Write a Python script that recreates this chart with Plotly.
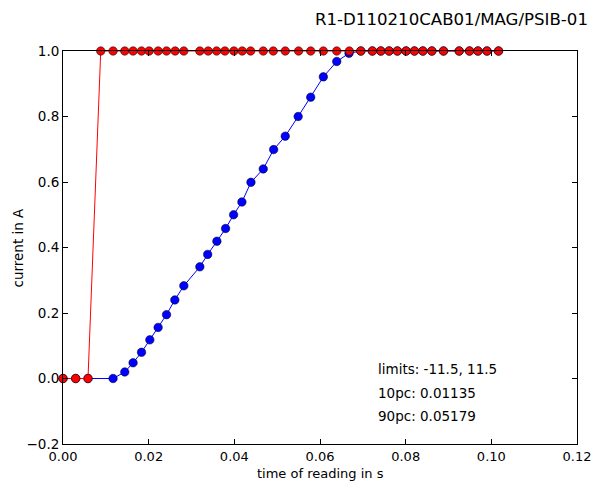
import plotly.graph_objects as go

title_text = "R1-D110210CAB01/MAG/PSIB-01"
x_label = "time of reading in s"
y_label = "current in A"
notes = ["limits: -11.5, 11.5", "10pc: 0.01135", "90pc: 0.05179"]

red_x = [0.0, 0.00297, 0.00584, 0.00881, 0.01169, 0.01442, 0.01636, 0.01833, 0.02010,
         0.02221, 0.02417, 0.02618, 0.02821, 0.03195, 0.03389, 0.03586, 0.0378, 0.0399,
         0.04184, 0.04381, 0.04675, 0.04909, 0.05189, 0.05500, 0.05783, 0.06078, 0.06391,
         0.06685, 0.06952, 0.07223, 0.07419, 0.07614, 0.07807, 0.0801, 0.08205, 0.08401,
         0.08611, 0.08883, 0.09250, 0.0949, 0.09687, 0.09897, 0.10168]
red_y = [0.0, 0.0, 0.0] + [1.0] * 40

blue_x = [0.0, 0.00297, 0.00584, 0.01169, 0.01442, 0.01636, 0.01833, 0.02027, 0.02221,
          0.02417, 0.02611, 0.02821, 0.03195, 0.03378, 0.03593, 0.03796, 0.03983, 0.04177,
          0.04388, 0.04675, 0.04918, 0.05189, 0.0549, 0.05783, 0.06078, 0.06391, 0.06678,
          0.06952, 0.07223, 0.07419, 0.07614, 0.07807, 0.0801, 0.08205, 0.08401, 0.08611,
          0.08883, 0.09250, 0.0949, 0.09687, 0.09897, 0.10168]
blue_y = [0.0, 0.0, 0.0, 0.0, 0.02, 0.048, 0.08, 0.118, 0.156, 0.195, 0.24, 0.283, 0.341,
          0.379, 0.419, 0.458, 0.5, 0.539, 0.599, 0.64, 0.699, 0.74, 0.8, 0.859, 0.921,
          0.968, 0.993, 1.0, 1.0, 1.0, 1.0, 1.0, 1.0, 1.0, 1.0, 1.0, 1.0, 1.0, 1.0, 1.0,
          1.0, 1.0]

x_ticks = [0.0, 0.02, 0.04, 0.06, 0.08, 0.10, 0.12]
y_ticks = [-0.2, 0.0, 0.2, 0.4, 0.6, 0.8, 1.0]

FONT = "DejaVu Sans"
FS = 13.5
W, H = 591, 482
ML, MR, MT, MB = 63, 14, 51, 38
PW, PH = W - ML - MR, H - MT - MB


def px_x(p):
    return (p - ML) / PW


def px_y(p):
    return (H - MB - p) / PH


fig = go.Figure()
fig.add_trace(go.Scatter(
    x=blue_x, y=blue_y, mode="lines+markers",
    line=dict(color="#0000ff", width=1),
    marker=dict(color="#0000ff", size=8.5, line=dict(color="#000000", width=0.5)),
    cliponaxis=False, showlegend=False))
fig.add_trace(go.Scatter(
    x=red_x, y=red_y, mode="lines+markers",
    line=dict(color="#ff0000", width=1),
    marker=dict(color="#ff0000", size=8.5, line=dict(color="#000000", width=0.5)),
    cliponaxis=False, showlegend=False))

axis_common = dict(
    showgrid=False, zeroline=False, showline=True, linecolor="#000000", linewidth=1,
    mirror="ticks", ticks="inside", ticklen=5, tickcolor="#000000", tickwidth=1,
    automargin=False, ticklabeloverflow="allow",
)

fig.update_xaxes(range=[0, 0.12], tickvals=x_ticks,
                 ticktext=[f"{v:.2f}" for v in x_ticks],
                 tickfont=dict(family=FONT, size=13, color="#000000"),
                 **axis_common)
fig.update_yaxes(range=[-0.2, 1.0], tickvals=y_ticks,
                 ticktext=[("\u2212" if v < 0 else "") + f"{abs(v):.1f}" for v in y_ticks],
                 tickfont=dict(family=FONT, size=FS, color="#000000"),
                 **axis_common)

annotations = [
    dict(text=title_text, xref="paper", yref="paper", x=px_x(590), y=px_y(20),
         xanchor="right", yanchor="middle", showarrow=False,
         font=dict(family=FONT, size=16.6, color="#000000")),
    dict(text=x_label, xref="paper", yref="paper", x=0.5, y=px_y(482),
         xanchor="center", yanchor="bottom", showarrow=False, borderpad=0,
         font=dict(family=FONT, size=13, color="#000000")),
    dict(text=y_label, xref="paper", yref="paper", x=px_x(17), y=0.5, textangle=-90,
         xanchor="center", yanchor="middle", showarrow=False,
         font=dict(family=FONT, size=FS, color="#000000")),
]
note_px = [369, 393, 416]
for t, p in zip(notes, note_px):
    annotations.append(dict(text=t, xref="paper", yref="paper", x=px_x(376), y=px_y(p),
                            xanchor="left", yanchor="middle", showarrow=False,
                            font=dict(family=FONT, size=FS, color="#000000")))

fig.update_layout(
    width=W, height=H,
    margin=dict(l=ML, r=MR, t=MT, b=MB),
    paper_bgcolor="#ffffff", plot_bgcolor="#ffffff",
    annotations=annotations,
)

fig.write_html("out.html")
